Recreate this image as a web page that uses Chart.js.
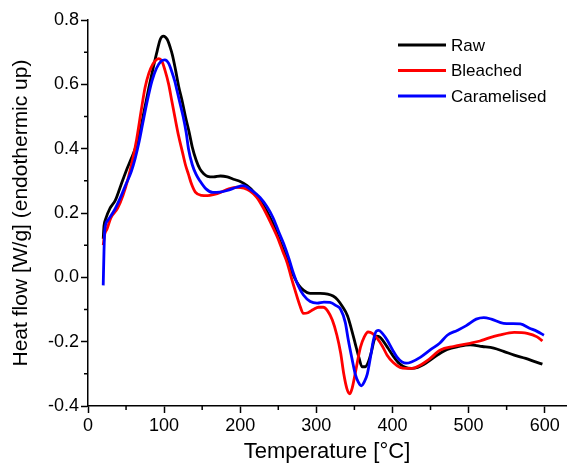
<!DOCTYPE html>
<html lang="en">
<head>
    <meta charset="UTF-8">
    <title>DSC heat flow</title>
    <script src="https://cdn.jsdelivr.net/npm/chart.js"></script>
    <style>
        body { margin: 0; background: white; }
        #wrap { width: 567px; height: 469px; }
    </style>
</head>
<body>
    <div id="wrap"><canvas id="dscChart" width="567" height="469"></canvas></div>

    <script>
        // values
        const rawTemp = [20, 21, 23, 29, 36, 43, 50, 57, 62, 68, 74, 80, 86, 91, 95, 99, 104, 108, 111, 115, 119, 124, 128, 133, 137, 142, 147, 152, 157, 165, 174, 183, 191, 200, 209, 218, 226, 235, 243, 250, 257, 264, 270, 277, 283, 292, 305, 315, 322, 328, 334, 341, 346, 351, 356, 360, 364, 368, 372, 376, 379, 383, 387, 394, 401, 409, 417, 425, 433, 445, 460, 472, 487, 502, 518, 533, 546, 560, 575, 587, 597];
        const rawFlow = [0.12, 0.16, 0.18, 0.215, 0.24, 0.285, 0.33, 0.37, 0.40, 0.45, 0.52, 0.59, 0.655, 0.705, 0.74, 0.75, 0.74, 0.715, 0.69, 0.645, 0.595, 0.545, 0.5, 0.45, 0.405, 0.365, 0.337, 0.322, 0.314, 0.312, 0.315, 0.312, 0.305, 0.298, 0.285, 0.265, 0.24, 0.205, 0.167, 0.125, 0.084, 0.04, 0.005, -0.025, -0.04, -0.05, -0.05, -0.052, -0.058, -0.07, -0.09, -0.12, -0.16, -0.205, -0.25, -0.278, -0.278, -0.265, -0.235, -0.195, -0.183, -0.185, -0.195, -0.22, -0.245, -0.268, -0.28, -0.283, -0.28, -0.265, -0.24, -0.224, -0.215, -0.21, -0.215, -0.22, -0.23, -0.242, -0.252, -0.262, -0.27];

        const bleachedTemp = [20, 22, 25, 30, 39, 46, 53, 59, 64, 70, 75, 80, 85, 89, 93, 97, 101, 106, 110, 114, 119, 124, 128, 132, 136, 141, 149, 157, 166, 174, 185, 196, 205, 213, 222, 230, 240, 249, 256, 262, 267, 272, 278, 283, 289, 296, 303, 309, 315, 321, 327, 332, 336, 340, 344, 347, 351, 355, 358, 363, 368, 374, 380, 387, 393, 401, 410, 418, 426, 435, 448, 463, 480, 502, 515, 525, 540, 560, 577, 590, 597];
        const bleachedFlow = [0.10, 0.135, 0.15, 0.185, 0.215, 0.255, 0.31, 0.37, 0.43, 0.52, 0.59, 0.635, 0.662, 0.675, 0.68, 0.672, 0.645, 0.6, 0.55, 0.5, 0.44, 0.39, 0.35, 0.32, 0.29, 0.265, 0.255, 0.254, 0.258, 0.264, 0.275, 0.28, 0.277, 0.268, 0.248, 0.217, 0.17, 0.124, 0.08, 0.043, 0.0, -0.04, -0.085, -0.112, -0.11, -0.1, -0.093, -0.093, -0.105, -0.133, -0.18, -0.236, -0.3, -0.345, -0.362, -0.345, -0.3, -0.25, -0.217, -0.185, -0.17, -0.175, -0.19, -0.215, -0.242, -0.265, -0.28, -0.283, -0.283, -0.275, -0.255, -0.226, -0.215, -0.205, -0.198, -0.19, -0.18, -0.171, -0.174, -0.185, -0.198];

        const caramelTemp = [20, 21, 22, 26, 35, 43, 50, 57, 62, 67, 72, 78, 84, 90, 96, 101, 106, 110, 114, 117, 121, 125, 129, 132, 137, 142, 147, 155, 164, 173, 183, 195, 204, 215, 226, 235, 243, 250, 257, 264, 270, 276, 283, 292, 301, 310, 318, 326, 332, 338, 342, 347, 351, 355, 359, 363, 367, 371, 375, 379, 382, 387, 393, 400, 406, 412, 418, 425, 437, 450, 462, 472, 485, 497, 510, 520, 530, 546, 557, 568, 580, 590, 599];
        const caramelFlow = [-0.025, 0.08, 0.146, 0.177, 0.21, 0.25, 0.29, 0.33, 0.37, 0.42, 0.48, 0.55, 0.61, 0.65, 0.672, 0.676, 0.665, 0.64, 0.61, 0.58, 0.54, 0.5, 0.45, 0.40, 0.35, 0.32, 0.30, 0.275, 0.264, 0.265, 0.27, 0.28, 0.285, 0.27, 0.248, 0.22, 0.186, 0.145, 0.105, 0.058, 0.012, -0.025, -0.055, -0.075, -0.08, -0.077, -0.078, -0.088, -0.10, -0.14, -0.195, -0.255, -0.30, -0.325, -0.337, -0.325, -0.30, -0.25, -0.195, -0.167, -0.165, -0.175, -0.195, -0.225, -0.248, -0.262, -0.267, -0.263, -0.248, -0.225, -0.205, -0.18, -0.165, -0.15, -0.13, -0.125, -0.13, -0.143, -0.144, -0.145, -0.158, -0.168, -0.18];

        const seriesNames = ['Raw', 'Bleached', 'Caramelised'];
        const seriesColors = ['#000000', '#ff0000', '#0000ff'];

        const xMajorTicks = [0, 100, 200, 300, 400, 500, 600];
        const yMajorTicks = [-0.4, -0.2, 0.0, 0.2, 0.4, 0.6, 0.8];

        const FONT = 'Arial, "Liberation Sans", sans-serif';

        function toPoints(xs, ys) {
            return xs.map((x, i) => ({ x: x, y: ys[i] }));
        }

        // minor ticks, drawn through the scales
        const minorTicks = {
            id: 'minorTicks',
            afterDraw(chart) {
                const ctx = chart.ctx;
                const xs = chart.scales.x, ys = chart.scales.y;
                ctx.save();
                ctx.strokeStyle = '#000';
                ctx.lineWidth = 1.5;
                ctx.beginPath();
                for (let v = 50; v < xs.max; v += 100) {
                    const px = xs.getPixelForValue(v);
                    ctx.moveTo(px, ys.bottom);
                    ctx.lineTo(px, ys.bottom + 4);
                }
                for (let v = -0.3; v < ys.max; v += 0.2) {
                    const py = ys.getPixelForValue(v);
                    ctx.moveTo(xs.left, py);
                    ctx.lineTo(xs.left - 4, py);
                }
                ctx.stroke();
                ctx.restore();
            }
        };

        // legend inside the plot, top right
        const insideLegend = {
            id: 'insideLegend',
            afterDraw(chart) {
                const ctx = chart.ctx;
                ctx.save();
                ctx.font = '17px ' + FONT;
                ctx.textBaseline = 'middle';
                seriesNames.forEach((name, i) => {
                    const y = 45 + i * 25.5;
                    ctx.strokeStyle = seriesColors[i];
                    ctx.lineWidth = 3;
                    ctx.beginPath();
                    ctx.moveTo(398, y);
                    ctx.lineTo(446, y);
                    ctx.stroke();
                    ctx.fillStyle = '#000';
                    ctx.fillText(name, 451, y + 1);
                });
                ctx.restore();
            }
        };

        const flows = [rawFlow, bleachedFlow, caramelFlow];
        const temps = [rawTemp, bleachedTemp, caramelTemp];

        new Chart(document.getElementById('dscChart'), {
            type: 'scatter',
            data: {
                datasets: seriesNames.map((name, i) => ({
                    label: name,
                    data: toPoints(temps[i], flows[i]),
                    showLine: true,
                    borderColor: seriesColors[i],
                    borderWidth: 2.8,
                    pointRadius: 0,
                    cubicInterpolationMode: 'monotone',
                    order: 2 - i
                }))
            },
            options: {
                responsive: false,
                animation: false,
                layout: { padding: { top: 20, right: 1, left: 0, bottom: 0 } },
                plugins: {
                    legend: { display: false },
                    tooltip: { enabled: false }
                },
                scales: {
                    x: {
                        type: 'linear',
                        min: 0,
                        max: 628,
                        afterFit(scale) { scale.height = 63; },
                        afterBuildTicks(scale) { scale.ticks = xMajorTicks.map(v => ({ value: v })); },
                        border: { display: true, color: '#000', width: 1.5 },
                        grid: { drawOnChartArea: false, drawTicks: true, tickLength: 7, tickColor: '#000', tickWidth: 1.5 },
                        ticks: {
                            color: '#000',
                            font: { family: FONT, size: 18 },
                            padding: 2,
                            maxRotation: 0,
                            callback: v => String(v)
                        },
                        title: {
                            display: true,
                            text: 'Temperature [°C]',
                            color: '#000',
                            font: { family: FONT, size: 22 },
                            padding: { top: 0, bottom: 4 }
                        }
                    },
                    y: {
                        type: 'linear',
                        min: -0.4,
                        max: 0.8,
                        afterFit(scale) { scale.width = 88; },
                        afterBuildTicks(scale) { scale.ticks = yMajorTicks.map(v => ({ value: v })); },
                        border: { display: true, color: '#000', width: 1.5 },
                        grid: { drawOnChartArea: false, drawTicks: true, tickLength: 7, tickColor: '#000', tickWidth: 1.5 },
                        ticks: {
                            color: '#000',
                            font: { family: FONT, size: 18 },
                            padding: 2,
                            callback: v => (Math.abs(v) < 1e-9 ? 0 : v).toFixed(1)
                        },
                        title: {
                            display: true,
                            text: 'Heat flow [W/g] (endothermic up)',
                            color: '#000',
                            font: { family: FONT, size: 21 },
                            padding: { top: 9, bottom: 9 }
                        }
                    }
                }
            },
            plugins: [minorTicks, insideLegend]
        });
    </script>
</body>
</html>
